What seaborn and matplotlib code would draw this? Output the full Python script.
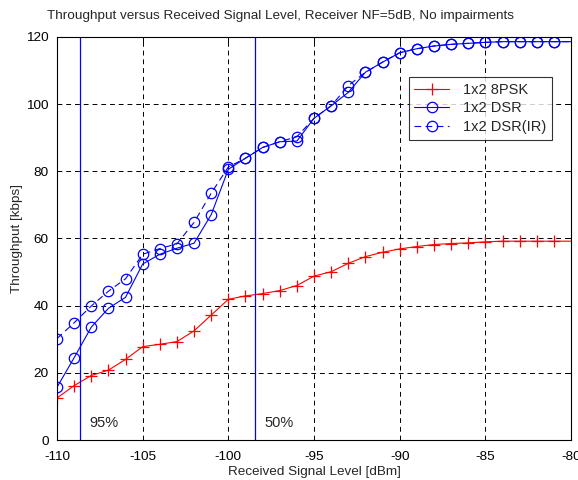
import numpy as np
import pandas as pd
import matplotlib
matplotlib.use('Agg')
import matplotlib.pyplot as plt
import seaborn as sns


# received signal level [dBm], one point per dB (last point only carries the line to the edge)
level = list(range(-110, -79))

psk8 = [12.5, 16.2, 19.2, 20.8, 24.0, 27.8, 28.5, 29.3, 32.5, 37.2,
        41.9, 42.9, 43.6, 44.5, 46.0, 48.8, 50.1, 52.6, 54.6, 55.9,
        56.9, 57.6, 58.2, 58.5, 58.7, 59.0, 59.2, 59.2, 59.2, 59.2,
        59.2]

dsr = [15.7, 24.5, 33.6, 39.2, 42.5, 52.4, 55.3, 57.1, 58.6, 67.1,
       80.6, 83.9, 87.1, 88.8, 89.0, 95.8, 99.5, 103.5, 109.5, 112.5,
       115.3, 116.5, 117.3, 117.8, 118.1, 118.4, 118.6, 118.6, 118.6, 118.6,
       118.6]

dsr_ir = [30.2, 34.9, 39.9, 44.3, 48.0, 55.3, 57.0, 58.4, 64.8, 73.5,
          81.3, 83.9, 87.1, 88.8, 90.3, 95.8, 99.5, 105.5, 109.5, 112.5,
          115.3, 116.5, 117.3, 117.8, 118.1, 118.4, 118.6, 118.6, 118.6, 118.6,
          118.6]

series_names = ['1x2 8PSK', '1x2 DSR', '1x2 DSR(IR)']

# coverage markers
vlines = [-108.65, -98.42]
vline_labels = ['95%', '50%']


def main():

    sns.set_style('white')
    plt.rcParams['font.family'] = ['Liberation Sans', 'DejaVu Sans']
    plt.rcParams['axes.unicode_minus'] = False

    fig = plt.figure(figsize=(5.78, 4.8), dpi=100)
    ax = fig.add_axes([0.0986, 0.0833, 0.8894, 0.8397])

    df = pd.DataFrame({'level': level, 'psk8': psk8, 'dsr': dsr, 'dsr_ir': dsr_ir})
    marks = list(range(len(level) - 1))

    styles = [
        ('psk8', 'red', '+', '-', 8),
        ('dsr', 'blue', 'o', '-', 7.5),
        ('dsr_ir', 'blue', 'o', (0, (6, 4)), 7.5),
    ]
    for (col, color, mk, ls, ms), name in zip(styles, series_names):
        sns.lineplot(data=df, x='level', y=col, ax=ax, color=color,
                     label=name, errorbar=None)
        line = ax.lines[-1]
        line.set_linestyle(ls)
        line.set_linewidth(0.8)
        line.set_marker(mk)
        line.set_markersize(ms)
        line.set_markerfacecolor('none')
        line.set_markeredgecolor(color)
        line.set_markeredgewidth(0.9)
        line.set_markevery(marks)

    for xv, txt in zip(vlines, vline_labels):
        ax.axvline(xv, color='blue', linewidth=0.9)
        ax.text(xv + 0.55, 5, txt, fontsize=10.5, va='center', ha='left')

    ax.set_xlim(-110, -80)
    ax.set_ylim(0, 120)
    ax.set_xticks(range(-110, -79, 5))
    ax.set_yticks(range(0, 121, 20))
    ax.grid(True, color='black', linestyle=(0, (5, 4)), linewidth=0.7)
    for s in ax.spines.values():
        s.set_color('black')
        s.set_linewidth(0.8)
    ax.tick_params(direction='in', top=True, right=True, length=4, width=0.7,
                   labelsize=9.7, colors='black')
    ax.tick_params(axis='x', pad=8)
    ax.tick_params(axis='y', pad=6)

    fig.text(0.486, 0.966, 'Throughput versus Received Signal Level, Receiver NF=5dB, No impairments',
             fontsize=9.7, ha='center', va='center')
    ax.set_xlabel('Received Signal Level [dBm]', fontsize=9.7, labelpad=2)
    ax.set_ylabel('Throughput [kbps]', fontsize=9.7, labelpad=2)

    leg = ax.legend(loc='upper left', bbox_to_anchor=(0.684, 0.90), fontsize=10.5,
                    frameon=True, fancybox=False, edgecolor='black',
                    handlelength=2.4, borderpad=0.4, labelspacing=0.3,
                    handletextpad=0.9, borderaxespad=0)
    leg.get_frame().set_linewidth(0.8)

    plt.savefig('out.png', dpi=100)


if __name__ == '__main__':
    main()
